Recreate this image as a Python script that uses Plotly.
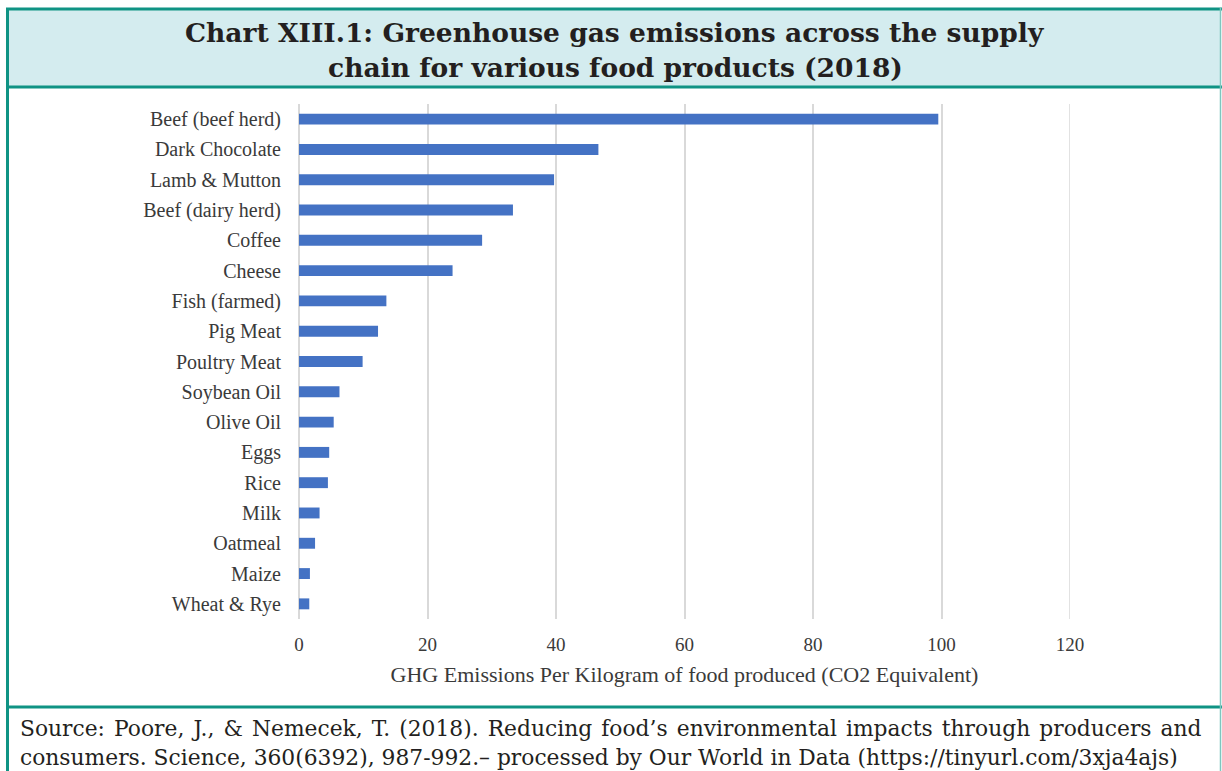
import plotly.graph_objects as go

categories = ["Beef (beef herd)", "Dark Chocolate", "Lamb & Mutton", "Beef (dairy herd)",
              "Coffee", "Cheese", "Fish (farmed)", "Pig Meat", "Poultry Meat", "Soybean Oil",
              "Olive Oil", "Eggs", "Rice", "Milk", "Oatmeal", "Maize", "Wheat & Rye"]
emissions = [99.5, 46.6, 39.7, 33.3, 28.5, 23.9, 13.6, 12.3, 9.9, 6.3,
             5.4, 4.7, 4.5, 3.2, 2.5, 1.7, 1.6]
x_ticks = [0, 20, 40, 60, 80, 100, 120]

title_line1 = "Chart XIII.1: Greenhouse gas emissions across the supply"
title_line2 = "chain for various food products (2018)"
source_line1 = "Source: Poore, J., & Nemecek, T. (2018). Reducing food’s environmental impacts through producers and"
source_line2 = "consumers. Science, 360(6392), 987-992.– processed by Our World in Data (https://tinyurl.com/3xja4ajs)"
x_title = "GHG Emissions Per Kilogram of food produced (CO2 Equivalent)"

W, H = 1222, 771
L, R, T, B = 299, 152, 104, 152
PW, PH = W - L - R, H - T - B

def px(x):
    return (x - L) / PW

def py(y):
    return (H - B - y) / PH

TEAL = "#0f9384"
fig = go.Figure(go.Bar(
    x=emissions, y=categories, orientation="h",
    marker=dict(color="#4472c4", line=dict(width=0)),
    width=0.36,
))

shapes = [
    dict(type="rect", xref="paper", yref="paper", x0=px(7), x1=px(1220), y0=py(87), y1=py(9),
         fillcolor="#d4ecef", line=dict(width=0), layer="below"),
    dict(type="line", xref="paper", yref="paper", x0=px(6), x1=px(1222), y0=py(9), y1=py(9),
         line=dict(color=TEAL, width=3)),
    dict(type="line", xref="paper", yref="paper", x0=px(6), x1=px(1222), y0=py(87), y1=py(87),
         line=dict(color=TEAL, width=3)),
    dict(type="line", xref="paper", yref="paper", x0=px(6), x1=px(1222), y0=py(707), y1=py(707),
         line=dict(color=TEAL, width=3)),
    dict(type="line", xref="paper", yref="paper", x0=px(7.5), x1=px(7.5), y0=py(8), y1=py(775),
         line=dict(color=TEAL, width=3)),
    dict(type="line", xref="paper", yref="paper", x0=px(1220.5), x1=px(1220.5), y0=py(8), y1=py(775),
         line=dict(color="#7fc6bf", width=1.5)),
    # gridline at the right edge of the axis (x = last tick)
    dict(type="line", xref="x", yref="paper", x0=x_ticks[-1], x1=x_ticks[-1], y0=0, y1=1,
         line=dict(color="#d9d9d9", width=1.5), layer="below"),
]

justified_line1 = source_line1.replace(" ", " \u200a")

annotations = [
    dict(xref="paper", yref="paper", x=px(615), y=py(33), text="<b>" + title_line1 + "</b>",
         showarrow=False, xanchor="center", yanchor="middle",
         font=dict(family="DejaVu Serif", size=26.5, color="#231f20")),
    dict(xref="paper", yref="paper", x=px(615), y=py(68), text="<b>" + title_line2 + "</b>",
         showarrow=False, xanchor="center", yanchor="middle",
         font=dict(family="DejaVu Serif", size=26.5, color="#231f20")),
    dict(xref="paper", yref="paper", x=px(18), y=py(728), text=justified_line1,
         showarrow=False, xanchor="left", yanchor="middle",
         font=dict(family="DejaVu Serif", size=21.8, color="#231f20")),
    dict(xref="paper", yref="paper", x=px(18), y=py(757), text=source_line2,
         showarrow=False, xanchor="left", yanchor="middle",
         font=dict(family="DejaVu Serif", size=21.8, color="#231f20")),
]

fig.update_layout(
    width=W, height=H,
    margin=dict(l=L, r=R, t=T, b=B, pad=0),
    paper_bgcolor="white", plot_bgcolor="white",
    showlegend=False,
    shapes=shapes, annotations=annotations,
    font=dict(family="Liberation Serif", size=20, color="#3a3a3a"),
    xaxis=dict(range=[0, 120], tickvals=x_ticks, showgrid=True, gridcolor="#d9d9d9", gridwidth=1.5,
               zeroline=True, zerolinecolor="#d9d9d9", zerolinewidth=1.5, showline=False,
               ticks="", ticklabelstandoff=12, tickfont=dict(size=19),
               title=dict(text=x_title, standoff=12, font=dict(size=22))),
    yaxis=dict(autorange="reversed", showgrid=False, zeroline=False, showline=False,
               ticks="", ticklabelstandoff=17, tickfont=dict(size=20)),
)

fig.write_html("out.html", config={"displayModeBar": False},
               post_script="document.body.style.margin='0';")
